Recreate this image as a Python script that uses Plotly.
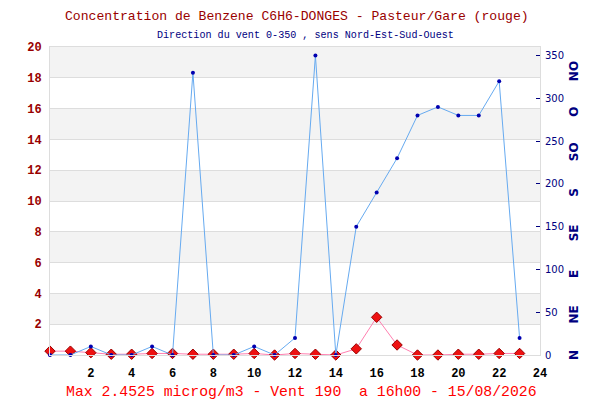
import plotly.graph_objects as go

hours = list(range(24))
benzene = [0.25, 0.25, 0.15, 0.05, 0.05, 0.1, 0.1, 0.05, 0.05, 0.05, 0.1, 0.0,
           0.1, 0.05, 0.0, 0.4, 2.45, 0.65, 0.0, 0.0, 0.05, 0.05, 0.1, 0.1]
wind_dir = [0, 0, 10, 0, 0, 10, 0, 330, 0, 0, 10, 0,
            20, 350, 0, 150, 190, 230, 280, 290, 280, 280, 320, 20]
x_ticks = list(range(2, 25, 2))
y_ticks = list(range(2, 21, 2))
y2_ticks = list(range(0, 351, 50))
dir_labels = ["N", "NE", "E", "SE", "S", "SO", "O", "NO"]

title = "Concentration de Benzene C6H6-DONGES - Pasteur/Gare (rouge)"
subtitle = "Direction du vent 0-350 , sens Nord-Est-Sud-Ouest"
footer = "Max 2.4525 microg/m3 - Vent 190  a 16h00 - 15/08/2026"

MONO = "Liberation Mono"

# page body margin of the browser shifts the figure by 8px
OFF = 8
W, H = 592, 392
PL, PR, PT, PB = 50, 540, 47, 355  # plot area in page pixels
ml, mr, mt, mb = PL - OFF, OFF + W - PR, PT - OFF, OFF + H - PB
ph = PB - PT


def py(ypage):
    return (PB - ypage) / ph


def px(xpage):
    return (xpage - PL) / (PR - PL)


fig = go.Figure()
fig.add_trace(go.Scatter(
    x=hours, y=wind_dir, yaxis="y2", mode="lines+markers",
    line=dict(color="#66aaf0", width=1),
    marker=dict(color="#0000b0", size=4),
    cliponaxis=False, showlegend=False))
fig.add_trace(go.Scatter(
    x=hours, y=benzene, mode="lines+markers",
    line=dict(color="#ff7fb0", width=1),
    marker=dict(symbol="diamond", color="#ee1111", size=8,
                line=dict(color="#990000", width=1)),
    cliponaxis=False, showlegend=False))

shapes = []
for y0 in range(2, 20, 4):
    shapes.append(dict(type="rect", xref="paper", yref="y", x0=0, x1=1,
                       y0=y0, y1=y0 + 2, fillcolor="#f3f3f3",
                       line=dict(width=0), layer="below"))

annotations = [
    dict(text=title, x=px(297), y=py(16.5), xref="paper", yref="paper", showarrow=False,
         yanchor="middle", font=dict(family=MONO, size=13.1, color="#990000")),
    dict(text=subtitle, x=px(305), y=py(35), xref="paper", yref="paper", showarrow=False,
         yanchor="middle", font=dict(family=MONO, size=10.1, color="#000080")),
    dict(text=footer, x=px(301), y=py(392), xref="paper", yref="paper", showarrow=False,
         yanchor="middle", font=dict(family=MONO, size=14.8, color="#ff0000")),
]
for i, lab in enumerate(dir_labels):
    annotations.append(dict(text="<b>" + lab + "</b>", x=1, xshift=43, xref="paper",
                            y=i * 47.4, yref="y2", showarrow=False, textangle=-90,
                            font=dict(family="DejaVu Sans", size=12, color="#000080")))

fig.update_layout(
    width=W, height=H,
    margin=dict(l=ml, r=mr, t=mt, b=mb, pad=0, autoexpand=False),
    paper_bgcolor="white", plot_bgcolor="white",
    shapes=shapes, annotations=annotations,
    xaxis=dict(range=[0, 24], tickvals=x_ticks, showgrid=False, zeroline=False,
               showline=True, linecolor="#dddddd", mirror=True, ticks="",
               automargin=False, ticklabelstandoff=7,
               tickfont=dict(family=MONO, size=12, color="black", weight="bold")),
    yaxis=dict(range=[0, 20], tickvals=y_ticks, showgrid=True, gridcolor="#dddddd",
               zeroline=False, showline=True, linecolor="#dddddd", mirror=True,
               ticks="", ticklabelstandoff=5, automargin=False,
               tickfont=dict(family=MONO, size=12, color="#990000", weight="bold")),
    yaxis2=dict(range=[0, 360], tickvals=y2_ticks, overlaying="y", side="right",
                showgrid=False, zeroline=False, showline=False, automargin=False,
                ticks="inside", ticklen=4, tickcolor="#000080", ticklabelstandoff=4,
                tickfont=dict(family="DejaVu Sans", size=10, color="#000080")),
)

fig.write_html("out.html")
